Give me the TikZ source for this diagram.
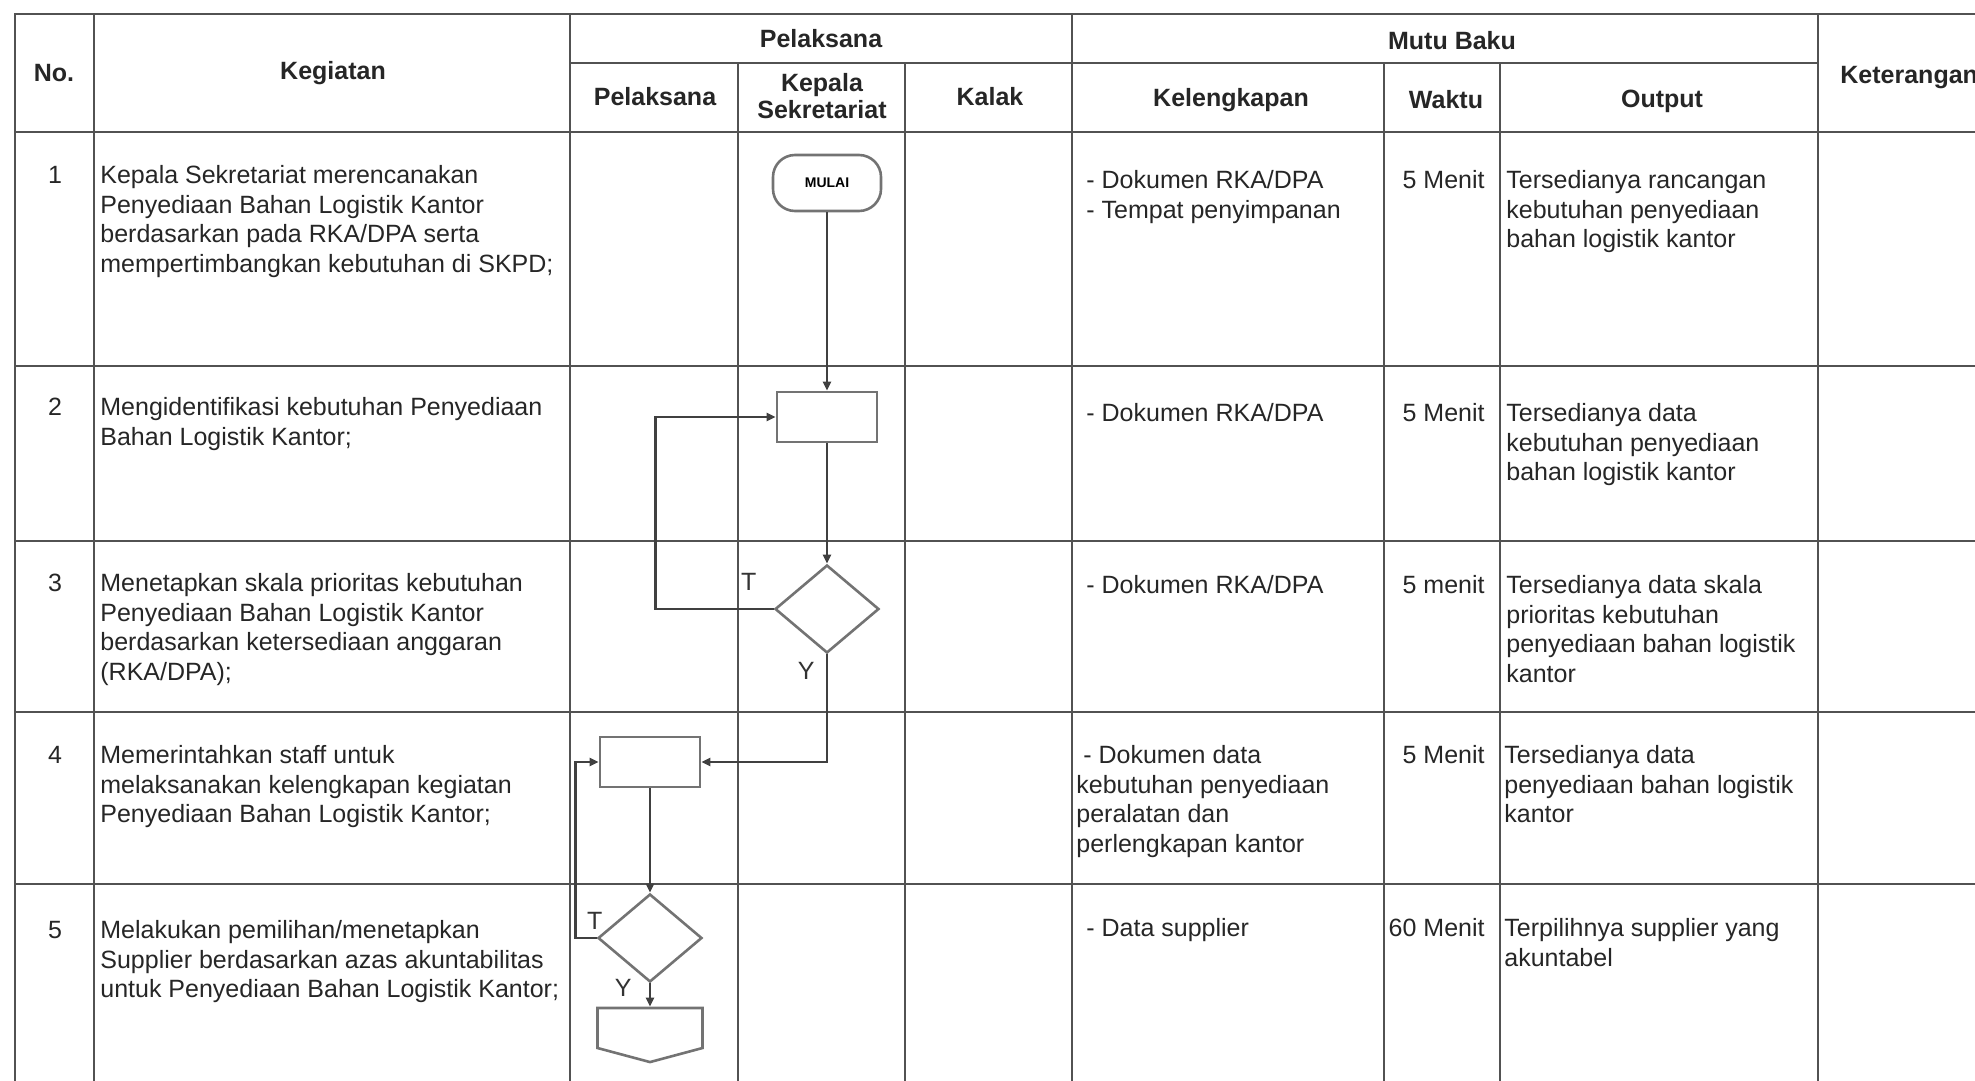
\documentclass[tikz,border=0pt]{standalone}
\usepackage{fontspec}
\setmainfont{Liberation Sans}
\usetikzlibrary{positioning,shapes.geometric,shapes.symbols,arrows.meta}

\begin{document}
\begin{tikzpicture}[x=0.5pt, y=-0.5pt,
  g/.style={line width=1.4pt, draw=black!68},
  tx/.style={anchor=north west, align=left, inner sep=0, text=black!85, font=\fontsize{12.5}{14.75}\selectfont},
  hd/.style={inner sep=0, align=center, text=black!85, font=\bfseries\fontsize{12.5}{13.5}\selectfont},
  term/.style={draw=black!55, line width=1.3pt, rounded corners=11pt, minimum width=54pt, minimum height=28pt, inner sep=0, font=\bfseries\fontsize{7}{8}\selectfont},
  proc/.style={draw=black!55, line width=1.3pt, minimum width=50pt, minimum height=25pt, inner sep=0},
  dec/.style={diamond, draw=black!55, line width=1.3pt, minimum width=52pt, minimum height=44pt, inner sep=0},
  opc/.style={signal, signal to=south, signal pointer angle=150, draw=black!55, line width=1.3pt, minimum width=52.5pt, minimum height=20pt, inner sep=0},
  ln/.style={line width=1.3pt, draw=black!75, -{Triangle[length=4.5pt,width=4pt]}},
  lbl/.style={inner sep=0, text=black!80, font=\fontsize{12.5}{14}\selectfont}]
\useasboundingbox (0,0) rectangle (1975,1081);
\clip (0,0) rectangle (1975,1081);

\draw[g] (2010,14) -- (15,14) -- (15,1100);
\draw[g] (15,132) -- (2010,132);
\foreach \r in {366,541,712,884} \draw[g] (15,\r) -- (2010,\r);
\foreach \c in {94,570,1072,1818} \draw[g] (\c,14) -- (\c,1100);
\draw[g] (570,63) -- (1818,63);
\foreach \c in {738,905,1384,1500} \draw[g] (\c,63) -- (\c,1100);

\node[hd] (hno) at (54,73) {No.};
\node[hd] (hkeg) at (333,73) {Kegiatan};
\node[hd] (hpel) at (821,39) {Pelaksana};
\node[hd] (hpl) at (655,97) {Pelaksana};
\node[hd] (hkep) at (822,96) {Kepala\\Sekretariat};
\node[hd] (hkal) at (990,97) {Kalak};
\node[hd] (hmutu) at (1452,41) {Mutu Baku};
\node[hd] (hkel) at (1231,100) {Kelengkapan};
\node[hd] (hwkt) at (1446,100) {Waktu};
\node[hd] (hout) at (1662,101) {Output};
\node[hd, anchor=west] (hket) at (1840,78) {Keterangan};

\foreach \n/\y in {1/166,2/398,3/574,4/746,5/921}
  \node[tx, anchor=north] (no\n) at (55,\y) {\n};

\node[tx] (keg1) at (100,165) {Kepala Sekretariat merencanakan\\Penyediaan Bahan Logistik Kantor\\berdasarkan pada RKA/DPA serta\\mempertimbangkan kebutuhan di SKPD;};
\node[tx] (keg2) at (100,397) {Mengidentifikasi kebutuhan Penyediaan\\Bahan Logistik Kantor;};
\node[tx] (keg3) at (100,573) {Menetapkan skala prioritas kebutuhan\\Penyediaan Bahan Logistik Kantor\\berdasarkan ketersediaan anggaran\\(RKA/DPA);};
\node[tx] (keg4) at (100,745) {Memerintahkan staff untuk\\melaksanakan kelengkapan kegiatan\\Penyediaan Bahan Logistik Kantor;};
\node[tx] (keg5) at (100,920) {Melakukan pemilihan/menetapkan\\Supplier berdasarkan azas akuntabilitas\\untuk Penyediaan Bahan Logistik Kantor;};

\node[tx] (kel1) at (1086,170) {- Dokumen RKA/DPA\\- Tempat penyimpanan};
\node[tx] (kel2) at (1086,403) {- Dokumen RKA/DPA};
\node[tx] (kel3) at (1086,575) {- Dokumen RKA/DPA};
\node[tx] (kel4) at (1076,745) {\ - Dokumen data\\kebutuhan penyediaan\\peralatan dan\\perlengkapan kantor};
\node[tx] (kel5) at (1086,918) {- Data supplier};

\node[tx, anchor=north east] (wkt1) at (1485,170) {5 Menit};
\node[tx, anchor=north east] (wkt2) at (1485,403) {5 Menit};
\node[tx, anchor=north east] (wkt3) at (1485,575) {5 menit};
\node[tx, anchor=north east] (wkt4) at (1485,745) {5 Menit};
\node[tx, anchor=north east] (wkt5) at (1485,918) {60 Menit};

\node[tx] (out1) at (1506,170) {Tersedianya rancangan\\kebutuhan penyediaan\\bahan logistik kantor};
\node[tx] (out2) at (1506,403) {Tersedianya data\\kebutuhan penyediaan\\bahan logistik kantor};
\node[tx] (out3) at (1506,575) {Tersedianya data skala\\prioritas kebutuhan\\penyediaan bahan logistik\\kantor};
\node[tx] (out4) at (1504,745) {Tersedianya data\\penyediaan bahan logistik\\kantor};
\node[tx] (out5) at (1504,918) {Terpilihnya supplier yang\\akuntabel};

\node[term] (mulai) at (827,183) {MULAI};
\node[proc] (p2) at (827,417) {};
\node[dec] (d3) at (827,609) {};
\node[proc] (p4) at (650,762) {};
\node[dec] (d5) at (650,938) {};
\node[opc] (op) at (650,1028) {};

\node[lbl, above left=9pt and 8.5pt of d3.west] (t3) {T};
\node[lbl, below left=4pt and 6pt of d3.south] (y3) {Y};
\node[lbl, above=4pt of d5.west, xshift=-1pt] (t5) {T};
\node[lbl, left=9pt of d5.south, yshift=-2.5pt] (y5) {Y};

\draw[ln] (mulai) -- (p2);
\draw[ln] (p2) -- (d3);
\draw[ln] (d3.west) -- ++(-118,0) |- (p2.west);
\draw[ln] (d3.south) |- (p4.east);
\draw[ln] (p4) -- (d5);
\draw[ln] (d5.west) -- ++(-21,0) |- (p4.west);
\draw[ln] (d5) -- (op);
\end{tikzpicture}
\end{document}
